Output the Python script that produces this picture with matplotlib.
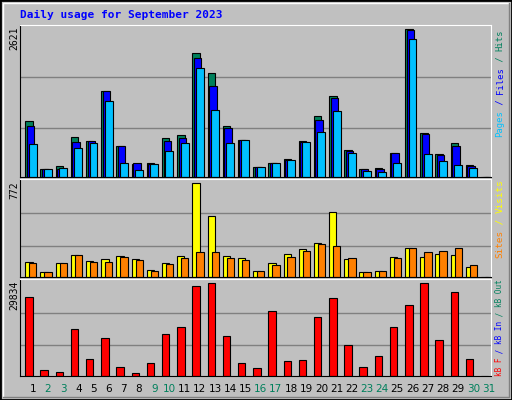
import numpy as np
import matplotlib
matplotlib.use("Agg")
import matplotlib.pyplot as plt

DAYS = np.arange(1, 32)
WEEKENDS = [2, 3, 9, 10, 16, 17, 23, 24, 30, 31]

hits = [1002, 136, 190, 706, 635, 1524, 546, 225, 243, 688, 741, 2200, 1844, 901, 652,
        172, 243, 314, 635, 1079, 1435, 474, 136, 154, 421, 2621, 777, 403, 599, 208, 0]
files = [901, 136, 136, 617, 635, 1524, 546, 243, 225, 635, 688, 2111, 1613, 866, 652,
         172, 243, 297, 617, 1008, 1399, 457, 136, 136, 421, 2603, 759, 385, 546, 190, 0]
pages = [581, 136, 154, 510, 599, 1346, 243, 119, 225, 457, 599, 1933, 1186, 599, 652,
         172, 243, 297, 617, 795, 1168, 421, 101, 83, 243, 2449, 403, 279, 208, 154, 0]
visits = [123, 39, 114, 181, 131, 148, 173, 148, 56, 114, 173, 772, 507, 173, 156,
          47, 114, 190, 231, 281, 532, 148, 39, 47, 164, 240, 164, 190, 181, 81, 0]
sites = [114, 39, 114, 181, 123, 123, 164, 139, 47, 106, 156, 206, 206, 156, 139,
         47, 98, 164, 215, 273, 256, 156, 39, 47, 156, 240, 206, 215, 240, 98, 0]
kbytes = [25280, 1845, 1194, 15190, 5425, 12260, 2821, 868, 4123, 13563, 15841, 28861,
          29834, 12912, 4123, 2496, 20724, 4774, 5100, 19096, 24955, 9982, 2821, 6402,
          15841, 22677, 29834, 11610, 26908, 5425, 0]

BG = "#c0c0c0"
W, H = 512, 400
fig = plt.figure(figsize=(W / 100, H / 100), dpi=100, facecolor=BG)

# moldura externa
fig.add_artist(plt.Rectangle((0, 0), 1, 1, transform=fig.transFigure,
                             fill=False, ec="black", lw=2))
fig.add_artist(plt.Line2D([3 / W, 3 / W, 1 - 3 / W], [3 / H, 1 - 3 / H, 1 - 3 / H],
                          transform=fig.transFigure, color="white", lw=1))
fig.add_artist(plt.Line2D([3 / W, 1 - 3 / W, 1 - 3 / W], [3 / H, 3 / H, 1 - 3 / H],
                          transform=fig.transFigure, color="#808080", lw=1))

fig.text(20 / W, 1 - 15 / H, "Daily usage for September 2023", color="#0000ff",
         family="DejaVu Sans Mono", weight="bold", fontsize=8, va="center")

XMIN = 0.165
MONO = "DejaVu Sans Mono"


def painel(y0, y1, vmax, top):
    ax = fig.add_axes([20 / W, 1 - y1 / H, 471 / W, (y1 - y0) / H])
    ax.set_facecolor(BG)
    ax.set_xlim(XMIN, XMIN + 31)
    ax.set_ylim(0, top)
    for f in (0.335, 0.68):
        ax.axhline(vmax * f, color="#808080", lw=1, zorder=0)
    ax.set_xticks([])
    ax.set_yticks([])
    for s in ("left", "bottom"):
        ax.spines[s].set_color("black")
    for s in ("top", "right"):
        ax.spines[s].set_color("white")
    fig.text(14 / W, 1 - (y0 + 2) / H, str(vmax), rotation=90, ha="center", va="top",
             color="black", family=MONO, fontsize=7)
    return ax


def rotulo_direita(y_base, partes, cw):
    # cw = largura de um caractere em pixels
    fs = cw / 0.602 * 72 / 100
    y = y_base
    for txt, cor in partes:
        fig.text(500 / W, 1 - y / H, txt, rotation=90, ha="center", va="bottom",
                 color=cor, family=MONO, fontsize=fs)
        y -= len(txt) * cw


ax1 = painel(25, 177, 2621, 2697)
ax1.bar(DAYS - 0.49, hits, width=0.49, align="edge", color="#00805c", ec="black", lw=0.8)
ax1.bar(DAYS - 0.39, files, width=0.49, align="edge", color="#0000ff", ec="black", lw=0.8)
ax1.bar(DAYS - 0.26, pages, width=0.52, align="edge", color="#00c0ff", ec="black", lw=0.8)
rotulo_direita(137, [("Pages", "#00c0ff"), (" / ", "#0000ff"), ("Files", "#0000ff"),
                     (" / ", "#00805c"), ("Hits", "#00805c")], 5.35)

ax2 = painel(179, 277, 772, 808)
ax2.bar(DAYS - 0.49, visits, width=0.48, align="edge", color="#ffff00", ec="black", lw=0.8)
ax2.bar(DAYS - 0.23, sites, width=0.48, align="edge", color="#ff8000", ec="black", lw=0.8)
rotulo_direita(258, [("Sites", "#ff8000"), (" / ", "#ffff00"), ("Visits", "#ffff00")], 5.6)

ax3 = painel(279, 376, 29834, 31135)
ax3.bar(DAYS - 0.49, kbytes, width=0.49, align="edge", color="#ff0000", ec="black", lw=0.8)
rotulo_direita(376, [("kB F", "#ff0000"), (" / ", "#0000ff"), ("kB In", "#0000ff"),
                     (" / ", "#00805c"), ("kB Out", "#00805c")], 4.6)

# dias no eixo x
for d in DAYS:
    x = 20 + (d - XMIN) * 471 / 31
    cor = "#00805c" if d in WEEKENDS else "black"
    fig.text(x / W, 1 - 389 / H, str(d), ha="center", va="center", color=cor,
             family="DejaVu Sans", fontsize=7.5)

fig.savefig("out.png", dpi=100, facecolor=BG)
